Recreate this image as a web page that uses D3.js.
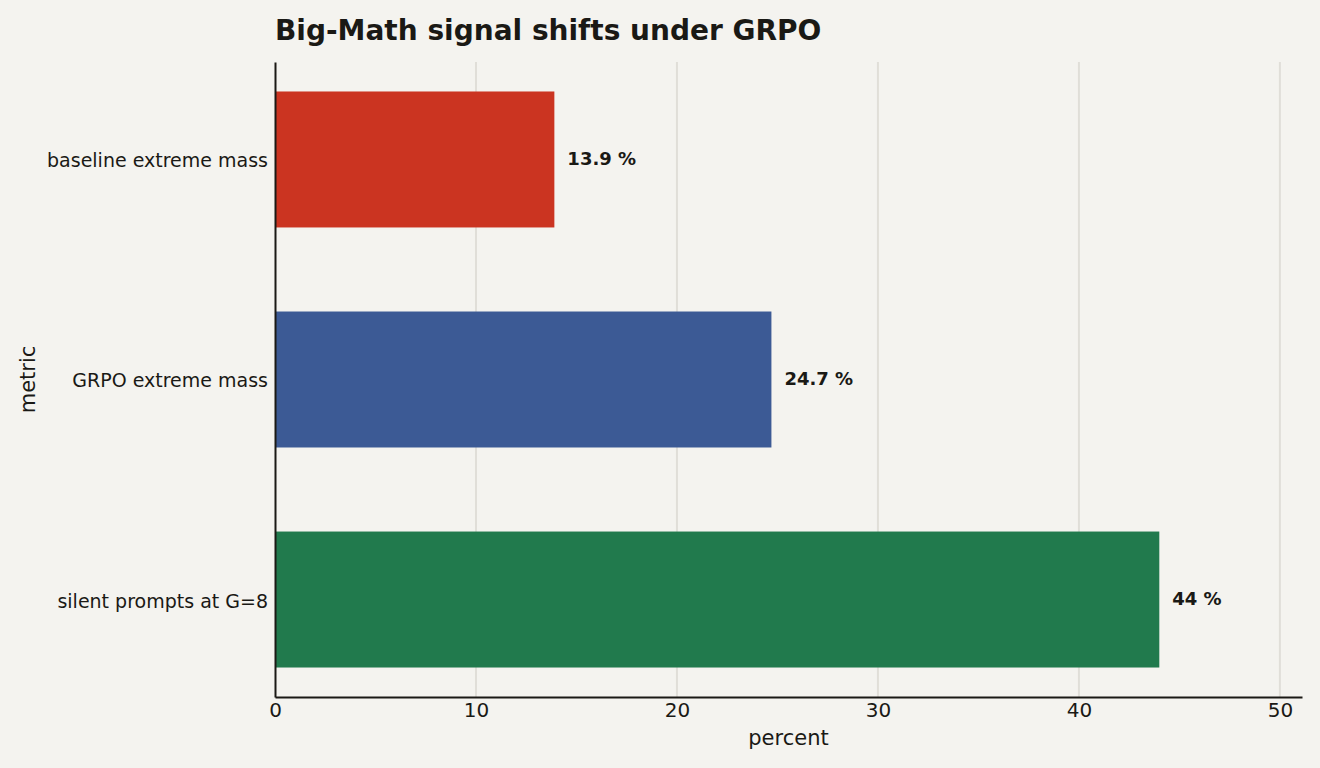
<!DOCTYPE html>
<html>
<head>
<meta charset="utf-8">
<script src="https://cdn.jsdelivr.net/npm/d3@7"></script>
<style>
  body { margin: 0; background: #f4f3ef; }
  svg { display: block; font-family: "DejaVu Sans", sans-serif; }
</style>
</head>
<body>
<script>
var categories = ["baseline extreme mass", "GRPO extreme mass", "silent prompts at G=8"];
var values = [13.9, 24.7, 44];
var valueLabels = ["13.9 %", "24.7 %", "44 %"];
var barColors = ["#cb3421", "#3c5a95", "#217a4d"];
var xTicks = [0, 10, 20, 30, 40, 50];

var width = 1320, height = 768;
var margin = {top: 62, right: 18, bottom: 71, left: 275};

var svg = d3.select("body").append("svg")
  .attr("width", width)
  .attr("height", height);

svg.append("rect").attr("width", width).attr("height", height).attr("fill", "#f4f3ef");

var x = d3.scaleLinear().domain([0, 51.1]).range([margin.left, width - margin.right]);
var y = d3.scaleBand().domain(categories)
  .range([margin.top, height - margin.bottom])
  .paddingInner(0.382).paddingOuter(0.134);

// grid lines
svg.append("g").selectAll("line").data(xTicks.slice(1)).enter().append("line")
  .attr("x1", function(d) { return x(d); })
  .attr("x2", function(d) { return x(d); })
  .attr("y1", margin.top)
  .attr("y2", height - margin.bottom)
  .attr("stroke", "#e0ded8")
  .attr("stroke-width", 2);

// bars
svg.append("g").selectAll("rect").data(values).enter().append("rect")
  .attr("x", x(0))
  .attr("y", function(d, i) { return y(categories[i]); })
  .attr("width", function(d) { return x(d) - x(0); })
  .attr("height", y.bandwidth())
  .attr("fill", function(d, i) { return barColors[i]; });

// value labels
svg.append("g").selectAll("text").data(values).enter().append("text")
  .attr("x", function(d) { return x(d) + 13; })
  .attr("y", function(d, i) { return y(categories[i]) + y.bandwidth() / 2 + 0.5; })
  .attr("dominant-baseline", "middle")
  .style("font-size", "18px")
  .style("font-weight", "bold")
  .attr("fill", "#1a1915")
  .text(function(d, i) { return valueLabels[i]; });

// x axis
var xAxis = d3.axisBottom(x).tickValues(xTicks).tickSize(0).tickPadding(6);
var gx = svg.append("g")
  .attr("transform", "translate(0," + (height - margin.bottom) + ")")
  .call(xAxis);
gx.select(".domain").attr("stroke", "#1a1915").attr("stroke-width", 2);
gx.selectAll("text").style("font-size", "20px").attr("fill", "#1a1915")
  .style("font-family", "'DejaVu Sans', sans-serif");

// y axis
var yAxis = d3.axisLeft(y).tickSize(0).tickPadding(7);
var gy = svg.append("g")
  .attr("transform", "translate(" + margin.left + ",0)")
  .call(yAxis);
gy.select(".domain").attr("stroke", "#1a1915").attr("stroke-width", 2);
gy.selectAll("text").style("font-size", "19px").attr("fill", "#1a1915")
  .attr("dy", "0.42em")
  .style("font-family", "'DejaVu Sans', sans-serif");

// axis titles
svg.append("text")
  .attr("x", (margin.left + width - margin.right) / 2)
  .attr("y", 745)
  .attr("text-anchor", "middle")
  .style("font-size", "21px")
  .attr("fill", "#1a1915")
  .text("percent");

svg.append("text")
  .attr("transform", "translate(35," + ((margin.top + height - margin.bottom) / 2) + ") rotate(-90)")
  .attr("text-anchor", "middle")
  .style("font-size", "21px")
  .attr("fill", "#1a1915")
  .text("metric");

// title
svg.append("text")
  .attr("x", margin.left)
  .attr("y", 40)
  .style("font-size", "28px")
  .style("font-weight", "bold")
  .attr("fill", "#1a1915")
  .text("Big-Math signal shifts under GRPO");
</script>
</body>
</html>
